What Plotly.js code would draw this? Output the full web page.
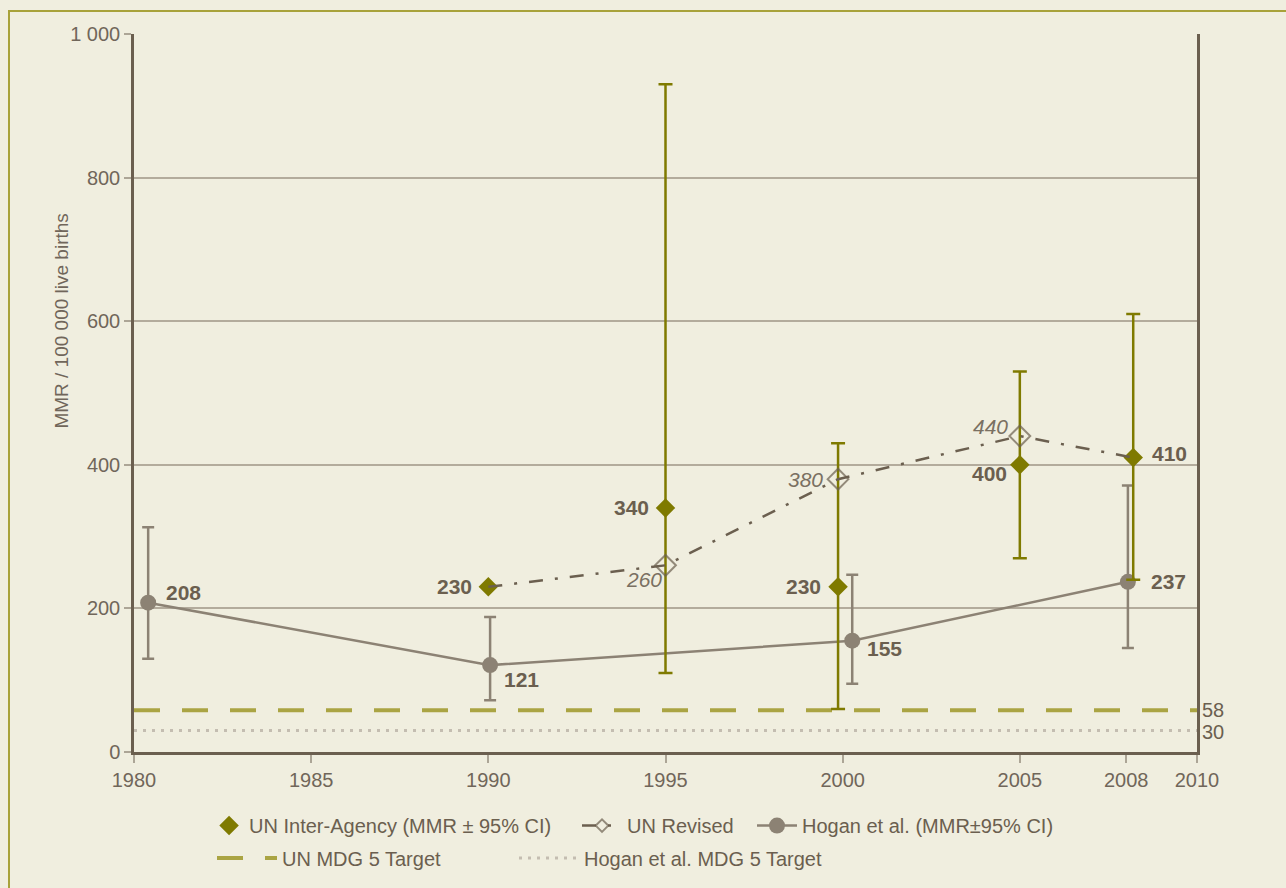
<!DOCTYPE html>
<html>
<head>
<meta charset="utf-8">
<script src="https://cdn.plot.ly/plotly-3.0.1.min.js"></script>
<style>html,body{margin:0;padding:0;background:#f0eedf;}#chart{width:1286px;height:888px;}</style>
</head>
<body>
<div id="chart"></div>
<script>
// ---- Data ----
var unYears = [1990, 1995, 1999.87, 2005, 2008.2];
var unMMR = [230, 340, 230, 400, 410];
var unUpper = [null, 930, 430, 530, 610];
var unLower = [null, 110, 60, 270, 240];

var revYears = [1990, 1995, 1999.87, 2005, 2008.2];
var revMMR = [230, 260, 380, 440, 410];

var hoganYears = [1980.4, 1990.05, 2000.27, 2008.05];
var hoganMMR = [208, 121, 155, 237];
var hoganUpper = [313, 188, 247, 371];
var hoganLower = [130, 72, 95, 145];

var targetYears = [1980, 2010];
var unTarget = [58, 58];
var hoganTarget = [30, 30];

var xTicks = [1980, 1985, 1990, 1995, 2000, 2005, 2008, 2010];
var yTicks = [0, 200, 400, 600, 800, 1000];
var yTickText = ['0', '200', '400', '600', '800', '1 000'];
var yTitle = 'MMR / 100 000 live births';

// ---- Styles ----
var olive = '#7f7a00';
var hogan = '#8c8274';
var dark = '#6b5f4f';
var fontFam = 'Liberation Sans, Arial, sans-serif';

function plusErr(vals, up) { return vals.map(function (v, i) { return up[i] == null ? NaN : up[i] - v; }); }
function minusErr(vals, lo) { return vals.map(function (v, i) { return lo[i] == null ? NaN : v - lo[i]; }); }

var traces = [
  {
    x: targetYears, y: unTarget, mode: 'lines', name: 'UN MDG 5 Target', legend: 'legend2',
    line: {color: '#aaa443', width: 4, dash: '26px,22px'}, hoverinfo: 'skip'
  },
  {
    x: targetYears, y: hoganTarget, mode: 'lines', name: 'Hogan et al. MDG 5 Target', legend: 'legend3',
    line: {color: '#c4bdb1', width: 3, dash: '3px,6px'}, hoverinfo: 'skip'
  },
  {
    x: hoganYears, y: hoganMMR, mode: 'lines+markers', name: 'Hogan et al. (MMR±95% CI)', legend: 'legend5',
    line: {color: hogan, width: 2.5},
    marker: {symbol: 'circle', size: 16, color: hogan},
    error_y: {type: 'data', symmetric: false, array: plusErr(hoganMMR, hoganUpper), arrayminus: minusErr(hoganMMR, hoganLower),
      color: hogan, thickness: 2.5, width: 6}
  },
  {
    x: unYears, y: unMMR, mode: 'markers', name: 'UN Inter-Agency (MMR ± 95% CI)', legend: 'legend',
    marker: {symbol: 'diamond', size: 15, color: olive},
    error_y: {type: 'data', symmetric: false, array: plusErr(unMMR, unUpper), arrayminus: minusErr(unMMR, unLower),
      color: olive, thickness: 2.5, width: 7}
  },
  {
    x: revYears, y: revMMR, mode: 'lines+markers', name: 'UN Revised', legend: 'legend4',
    line: {color: dark, width: 2.5, dash: '14px,12px,3px,12px'},
    marker: {symbol: 'diamond-open', size: [0, 16, 16, 16, 0], color: dark, line: {width: 2, color: dark}}
  }
];

// ---- Labels ----
var annotations = [];
var labFont = {size: 21, color: dark, family: fontFam};
var unOff = [[-34, 0], [-34, 0], [-35, 0], [-30, -9], [36, 4]];
unMMR.forEach(function (v, i) {
  annotations.push({x: unYears[i], y: v, text: '<b>' + v + '</b>', showarrow: false, xshift: unOff[i][0], yshift: unOff[i][1], font: labFont});
});
var hOff = [[35, 10], [31, -14], [32, -8], [41, 0]];
hoganMMR.forEach(function (v, i) {
  annotations.push({x: hoganYears[i], y: v, text: '<b>' + v + '</b>', showarrow: false, xshift: hOff[i][0], yshift: hOff[i][1], font: labFont});
});
var rOff = [null, [-22, -14], [-33, 0], [-29, 10], null];
revMMR.forEach(function (v, i) {
  if (!rOff[i]) return;
  annotations.push({x: revYears[i], y: v, text: '<i>' + v + '</i>', showarrow: false, xshift: rOff[i][0], yshift: rOff[i][1],
    font: {size: 21, color: '#7a7062', family: fontFam}});
});
annotations.push({xref: 'paper', x: 1, y: unTarget[1], text: String(unTarget[1]), showarrow: false, xanchor: 'left', xshift: 4, yshift: 0,
  borderpad: 0, font: {size: 20, color: dark, family: fontFam}});
annotations.push({xref: 'paper', x: 1, y: hoganTarget[1], text: String(hoganTarget[1]), showarrow: false, xanchor: 'left', xshift: 4, yshift: -2,
  borderpad: 0, font: {size: 20, color: dark, family: fontFam}});
// y-axis title (placed as in the reference, above the axis centre)
annotations.push({xref: 'paper', yref: 'paper', x: (62 - 134) / 1063, y: (753 - 322) / 719, xanchor: 'center', yanchor: 'middle',
  text: yTitle, textangle: -90, showarrow: false, font: {size: 19, color: '#70665a', family: fontFam}});

var legBase = {orientation: 'h', xanchor: 'left', yanchor: 'middle', font: {size: 20, color: dark},
  bgcolor: 'rgba(0,0,0,0)', traceorder: 'normal'};
function leg(extra) { return Object.assign({}, legBase, extra); }

var layout = {
  width: 1286, height: 888,
  paper_bgcolor: '#f0eedf', plot_bgcolor: '#f0eedf',
  margin: {l: 134, r: 89, t: 34, b: 135},
  font: {family: fontFam, color: dark, size: 20},
  showlegend: true,
  xaxis: {
    range: [1980, 2010], tickvals: xTicks, ticktext: xTicks.map(String),
    showgrid: false, zeroline: false,
    showline: true, linecolor: dark, linewidth: 2.5,
    ticks: 'outside', ticklen: 8, tickcolor: '#aca596', tickwidth: 2,
    tickfont: {size: 20, color: '#70665a'}
  },
  yaxis: {
    range: [0, 1000], tickvals: yTicks, ticktext: yTickText,
    showgrid: true, gridcolor: '#b3ab9c', gridwidth: 1.5, zeroline: false,
    showline: true, linecolor: dark, linewidth: 2.5, mirror: true,
    ticks: 'outside', ticklen: 7, tickcolor: '#aca596', tickwidth: 2,
    tickfont: {size: 20, color: '#70665a'}
  },
  legend: leg({x: 0.0706, y: -0.101}),
  legend4: leg({x: (577 - 134) / 1063, y: -0.101, itemwidth: 40}),
  legend5: leg({x: (752 - 134) / 1063, y: -0.101, itemwidth: 40}),
  legend2: leg({x: (212 - 134) / 1063, y: -0.146, itemwidth: 60}),
  legend3: leg({x: (514 - 134) / 1063, y: -0.146, itemwidth: 60}),
  annotations: annotations,
  shapes: [
    {type: 'rect', xref: 'paper', yref: 'paper', x0: (9 - 134) / 1063, x1: (1300 - 134) / 1063,
      y0: (753 - 900) / 719, y1: (753 - 11) / 719, line: {color: '#a8a23a', width: 2}, fillcolor: 'rgba(0,0,0,0)', layer: 'below'}
  ]
};

Plotly.newPlot('chart', traces, layout, {displayModeBar: false});
</script>
</body>
</html>
